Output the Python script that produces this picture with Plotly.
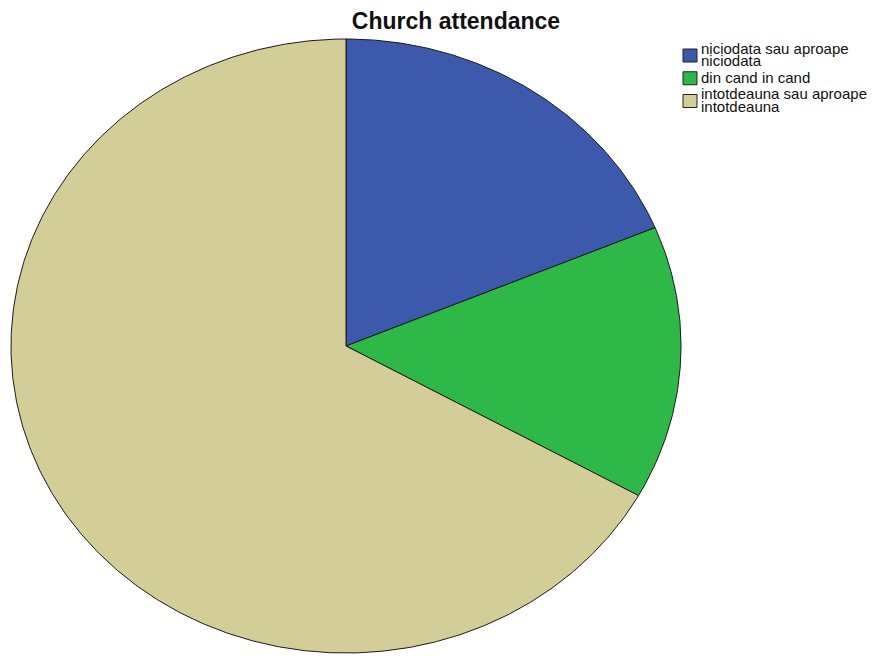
import numpy as np
import plotly.graph_objects as go

# Church attendance shares (percent)
categories = [["niciodata sau aproape", "niciodata"],
              ["din cand in cand"],
              ["intotdeauna sau aproape", "intotdeauna"]]
values = [18.7, 14.4, 66.9]
colors = ["#3D59AB", "#2EB848", "#D3CE97"]

W, H = 878, 656
# pie ellipse extents in pixels (left, right, top, bottom)
left_px, right_px, top_px, bottom_px = 11, 681, 39, 653

sx = 2.0 / (right_px - left_px)
sy = 2.0 / (bottom_px - top_px)
x_range = [-1 - left_px * sx, -1 + (W - left_px) * sx]
y_range = [-1 - (H - bottom_px) * sy, 1 + top_px * sy]

fig = go.Figure()

total = float(sum(values))
start = 0.0
for lines, v, c in zip(categories, values, colors):
    a0 = start / total * 2 * np.pi
    a1 = (start + v) / total * 2 * np.pi
    n = max(int((a1 - a0) / (2 * np.pi) * 720), 8)
    th = np.linspace(a0, a1, n)
    xs = np.concatenate([[0.0], np.sin(th), [0.0]])
    ys = np.concatenate([[0.0], np.cos(th), [0.0]])
    fig.add_trace(go.Scatter(
        x=xs, y=ys, mode="lines", fill="toself", fillcolor=c,
        line=dict(color="#1a1a1a", width=1), showlegend=False,
        name=" ".join(lines), hoverinfo="skip"))
    start += v

# compact legend: swatch + wrapped label lines
font = dict(family="Liberation Sans, Arial", size=15, color="#111111")
line_h = 12.5
y_cursor = 42.0
shapes, annotations = [], []
for lines, c in zip(categories, colors):
    block_h = line_h * len(lines)
    mid = y_cursor + block_h / 2 + 1
    shapes.append(dict(type="rect", xref="paper", yref="paper",
                       x0=683 / W, x1=697 / W,
                       y0=1 - (mid + 6.5) / H, y1=1 - (mid - 6.5) / H,
                       fillcolor=c, line=dict(color="#222222", width=1)))
    for i, txt in enumerate(lines):
        yc = y_cursor + line_h * (i + 0.5)
        annotations.append(dict(text=txt, xref="paper", yref="paper",
                                x=699 / W, y=1 - yc / H, xanchor="left",
                                yanchor="middle", showarrow=False, font=font))
    y_cursor += block_h + 4

fig.update_layout(
    width=W, height=H,
    margin=dict(l=0, r=0, t=0, b=0),
    paper_bgcolor="white", plot_bgcolor="white",
    title=dict(text="<b>Church attendance</b>", x=456 / W, xanchor="center",
               y=1 - 21 / H, yanchor="middle",
               font=dict(family="Liberation Sans, Arial", size=23, color="#111111")),
    xaxis=dict(range=x_range, visible=False, fixedrange=True),
    yaxis=dict(range=y_range, visible=False, fixedrange=True),
    shapes=shapes,
    annotations=annotations,
    hovermode=False,
    showlegend=False,
)

fig.write_html("out.html")
